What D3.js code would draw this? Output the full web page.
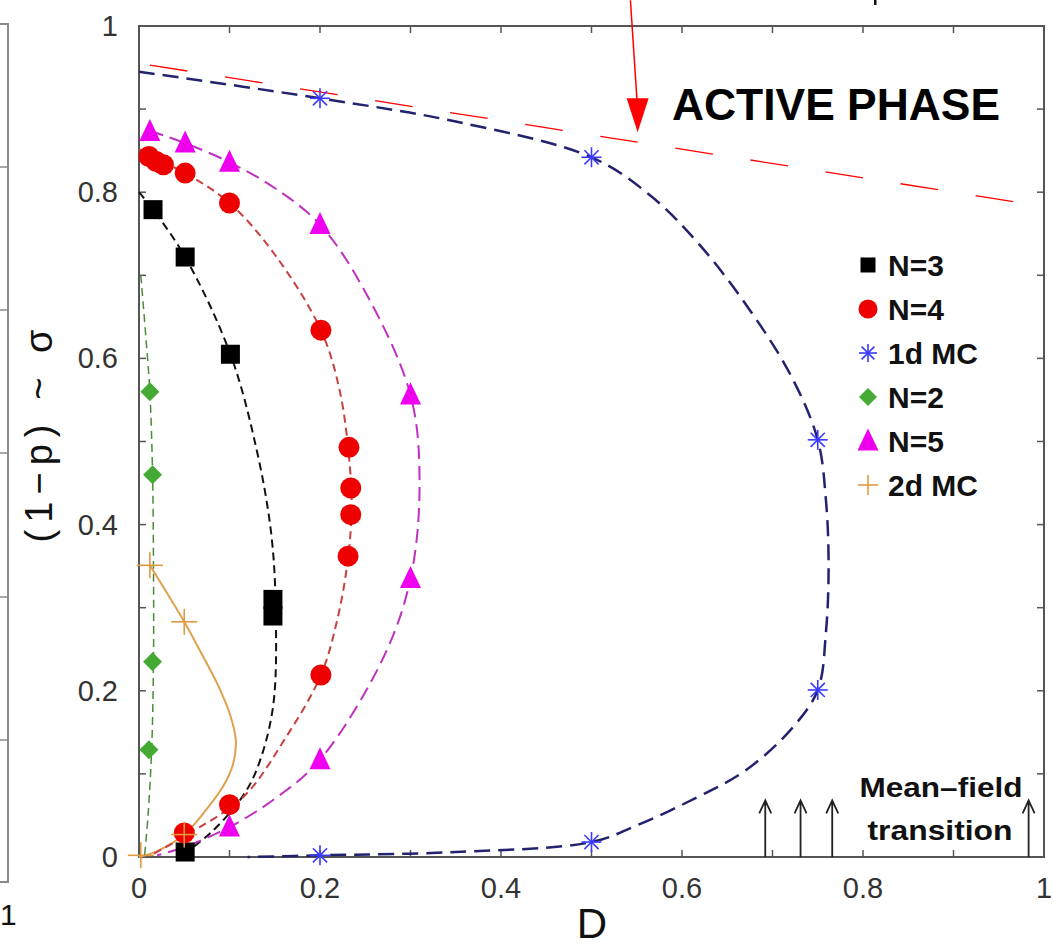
<!DOCTYPE html>
<html>
<head>
<meta charset="utf-8">
<script src="https://cdn.jsdelivr.net/npm/d3@7"></script>
<style>
  html, body { margin: 0; padding: 0; background: #fff; }
  svg { display: block; font-family: "Liberation Sans", Arial, Helvetica, sans-serif; }
</style>
</head>
<body>
<div id="chart"></div>
<script>
// Phase diagram: (1-p) ~ sigma versus D

// measured points [D, (1-p)]
const ptsN3 = [[0.0155, 0.779], [0.051, 0.722], [0.101, 0.605], [0.148, 0.31], [0.148, 0.29], [0.051, 0.006]];
const ptsN4 = [[0.011, 0.843], [0.019, 0.837], [0.027, 0.833], [0.051, 0.823], [0.1, 0.787], [0.201, 0.634],
  [0.232, 0.493], [0.234, 0.444], [0.234, 0.412], [0.231, 0.362], [0.201, 0.219], [0.1, 0.063], [0.05, 0.029]];
const pts1dMC = [[0.2, 0.913], [0.5, 0.842], [0.75, 0.502], [0.75, 0.201], [0.5, 0.018], [0.2, 0.002]];
const ptsN2 = [[0.012, 0.56], [0.015, 0.46], [0.015, 0.235], [0.011, 0.129]];
const ptsN5 = [[0.012, 0.873], [0.051, 0.859], [0.1, 0.836], [0.2, 0.761], [0.3, 0.556], [0.3, 0.335],
  [0.2, 0.117], [0.1, 0.036]];
const pts2dMC = [[0.012, 0.351], [0.05, 0.283], [0.05, 0.027], [0.002, 0.002]];

// fitted guide curves [D, (1-p)]
const fitN3 = [[0, 0.8], [0.0155, 0.779], [0.051, 0.722], [0.101, 0.605], [0.13, 0.49], [0.146, 0.39],
  [0.151, 0.3], [0.148, 0.18], [0.13, 0.105], [0.112, 0.069], [0.08, 0.03], [0.05, 0.004]];
const fitN4 = [[0, 0.852], [0.019, 0.84], [0.051, 0.823], [0.1, 0.787], [0.15, 0.725], [0.201, 0.634],
  [0.222, 0.56], [0.233, 0.47], [0.235, 0.42], [0.231, 0.36], [0.22, 0.29], [0.201, 0.219], [0.16, 0.14],
  [0.115, 0.072], [0.05, 0.025], [0.015, 0.003]];
const fitN5 = [[0.012, 0.874], [0.051, 0.859], [0.1, 0.836], [0.15, 0.805], [0.2, 0.761], [0.25, 0.68],
  [0.3, 0.556], [0.31, 0.45], [0.3, 0.335], [0.27, 0.24], [0.2, 0.117], [0.15, 0.07], [0.1, 0.036],
  [0.05, 0.012], [0.02, 0.002]];
const fit1dMC = [[0, 0.945], [0.2, 0.913], [0.35, 0.885], [0.5, 0.842], [0.565, 0.796], [0.62, 0.736],
  [0.675, 0.658], [0.72, 0.58], [0.75, 0.502], [0.759, 0.43], [0.762, 0.35], [0.759, 0.27], [0.75, 0.201],
  [0.72, 0.153], [0.67, 0.104], [0.617, 0.072], [0.55, 0.038], [0.5, 0.018], [0.35, 0.006], [0.2, 0.002],
  [0.12, 0]];
const fitN2 = [[0.002, 0.7], [0.008, 0.62], [0.012, 0.56], [0.015, 0.46], [0.016, 0.35], [0.016, 0.235],
  [0.014, 0.13], [0.01, 0.05], [0.006, 0]];
const fit2dMC = [[0.012, 0.351], [0.05, 0.283], [0.067, 0.249], [0.088, 0.205], [0.101, 0.17], [0.107, 0.14],
  [0.104, 0.112], [0.093, 0.085], [0.075, 0.058], [0.05, 0.027], [0.02, 0.007], [0, 0]];

// straight red boundary line and arrow
const redLine = [[0.012, 0.953], [0.976, 0.787]];
const redArrow = [[0.543, 1.031], [0.551, 0.872]];

// mean-field transition arrows
const mfArrowD = [0.692, 0.731, 0.766, 0.983];
const mfArrowTop = 0.068;

const xTicks = [0, 0.2, 0.4, 0.6, 0.8, 1];
const yTicks = [0, 0.2, 0.4, 0.6, 0.8, 1];
const minorTicks = d3.range(0, 11).map(i => i / 10);

const legendItems = [
  { label: 'N=3', kind: 'square' },
  { label: 'N=4', kind: 'circle' },
  { label: '1d MC', kind: 'star' },
  { label: 'N=2', kind: 'diamond' },
  { label: 'N=5', kind: 'triangle' },
  { label: '2d MC', kind: 'plus' }
];

const W = 1054, H = 947;
const x = d3.scaleLinear().domain([0, 1]).range([139, 1044]);
const y = d3.scaleLinear().domain([0, 1]).range([857, 26]);

const svg = d3.select('#chart').append('svg').attr('width', W).attr('height', H);

// neighbouring panel edge (cropped)
const edge = svg.append('g');
edge.append('path').attr('d', 'M0,24 L8,24 L8,882 L0,882')
  .attr('fill', 'none').attr('stroke', '#8a8a8a').attr('stroke-width', 2);
[167, 310, 453, 597, 740].forEach(ty => {
  edge.append('line').attr('x1', 0).attr('x2', 8).attr('y1', ty).attr('y2', ty)
    .attr('stroke', '#8a8a8a').attr('stroke-width', 1.5);
});
edge.append('text').attr('x', 0).attr('y', 925)
  .attr('font-size', 30).attr('fill', '#111').text('1');
svg.append('rect').attr('x', 874).attr('y', 0).attr('width', 2.5).attr('height', 5).attr('fill', '#111');

// frame and ticks
const frame = svg.append('g');
frame.append('rect').attr('x', x(0)).attr('y', y(1)).attr('width', x(1) - x(0)).attr('height', y(0) - y(1))
  .attr('fill', 'none').attr('stroke', '#555').attr('stroke-width', 2);
minorTicks.forEach(t => {
  frame.append('line').attr('x1', x(t)).attr('x2', x(t)).attr('y1', y(0)).attr('y2', y(0) - 7)
    .attr('stroke', '#555').attr('stroke-width', 1.5);
  frame.append('line').attr('x1', x(t)).attr('x2', x(t)).attr('y1', y(1)).attr('y2', y(1) + 7)
    .attr('stroke', '#555').attr('stroke-width', 1.5);
  frame.append('line').attr('x1', x(0)).attr('x2', x(0) + 7).attr('y1', y(t)).attr('y2', y(t))
    .attr('stroke', '#555').attr('stroke-width', 1.5);
  frame.append('line').attr('x1', x(1)).attr('x2', x(1) - 7).attr('y1', y(t)).attr('y2', y(t))
    .attr('stroke', '#555').attr('stroke-width', 1.5);
});
const fmt = d => d === 0 ? '0' : d === 1 ? '1' : d3.format('.1f')(d);
frame.selectAll('.xl').data(xTicks).join('text')
  .attr('x', d => x(d)).attr('y', 898).attr('text-anchor', 'middle')
  .attr('font-size', 29).attr('fill', '#333').text(fmt);
frame.selectAll('.yl').data(yTicks).join('text')
  .attr('x', 118).attr('y', d => y(d) + 10).attr('text-anchor', 'end')
  .attr('font-size', 29).attr('fill', '#333').text(fmt);

svg.append('text').attr('x', 592).attr('y', 938).attr('text-anchor', 'middle')
  .attr('font-size', 42).attr('fill', '#111').text('D');
svg.append('text').attr('transform', 'translate(52,436) rotate(-90)').attr('text-anchor', 'middle')
  .attr('font-size', 38).attr('fill', '#111').attr('textLength', 213).attr('lengthAdjust', 'spacing')
  .text('(1\u2212p) ~ \u03c3');

// curves
const line = d3.line().x(d => x(d[0])).y(d => y(d[1])).curve(d3.curveCatmullRom.alpha(0.5));
const curves = [
  { data: fit2dMC, color: '#e0a050', width: 2, dash: null },
  { data: fitN2, color: '#4a8a3a', width: 1.5, dash: '8,5' },
  { data: fitN3, color: '#111', width: 2, dash: '8,5' },
  { data: fitN4, color: '#c84040', width: 2, dash: '8,5' },
  { data: fitN5, color: '#c030c0', width: 2, dash: '14,7' },
  { data: fit1dMC, color: '#22226e', width: 2.5, dash: '16,8' }
];
curves.forEach(c => {
  svg.append('path').attr('d', line(c.data)).attr('fill', 'none')
    .attr('stroke', c.color).attr('stroke-width', c.width)
    .attr('stroke-dasharray', c.dash);
});

svg.append('line').attr('x1', x(redLine[0][0])).attr('y1', y(redLine[0][1]))
  .attr('x2', x(redLine[1][0])).attr('y2', y(redLine[1][1]))
  .attr('stroke', '#ff0000').attr('stroke-width', 1.3).attr('stroke-dasharray', '38,38');

// markers
function drawMarker(g, kind, cx, cy, s) {
  if (kind === 'square') {
    g.append('rect').attr('x', cx - s / 2).attr('y', cy - s / 2).attr('width', s).attr('height', s).attr('fill', '#000');
  } else if (kind === 'circle') {
    g.append('circle').attr('cx', cx).attr('cy', cy).attr('r', s / 2).attr('fill', '#ee0000');
  } else if (kind === 'triangle') {
    g.append('path').attr('d', `M${cx},${cy - s * 0.6} L${cx + s / 2},${cy + s * 0.45} L${cx - s / 2},${cy + s * 0.45}Z`)
      .attr('fill', '#ee00ee');
  } else if (kind === 'diamond') {
    g.append('path').attr('d', `M${cx},${cy - s / 2} L${cx + s / 2},${cy} L${cx},${cy + s / 2} L${cx - s / 2},${cy}Z`)
      .attr('fill', '#44aa33');
  } else if (kind === 'star') {
    for (let k = 0; k < 4; k++) {
      const a = k * Math.PI / 4;
      g.append('line').attr('x1', cx - Math.cos(a) * s / 2).attr('y1', cy - Math.sin(a) * s / 2)
        .attr('x2', cx + Math.cos(a) * s / 2).attr('y2', cy + Math.sin(a) * s / 2)
        .attr('stroke', '#3a3aff').attr('stroke-width', 1.6);
    }
  } else if (kind === 'plus') {
    g.append('line').attr('x1', cx - s / 2).attr('x2', cx + s / 2).attr('y1', cy).attr('y2', cy)
      .attr('stroke', '#e09a40').attr('stroke-width', 1.6);
    g.append('line').attr('x1', cx).attr('x2', cx).attr('y1', cy - s / 2).attr('y2', cy + s / 2)
      .attr('stroke', '#e09a40').attr('stroke-width', 1.6);
  }
}

const marks = svg.append('g');
ptsN2.forEach(d => drawMarker(marks, 'diamond', x(d[0]), y(d[1]), 19));
ptsN5.forEach(d => drawMarker(marks, 'triangle', x(d[0]), y(d[1]), 21));
ptsN3.forEach(d => drawMarker(marks, 'square', x(d[0]), y(d[1]), 19));
ptsN4.forEach(d => drawMarker(marks, 'circle', x(d[0]), y(d[1]), 21));
pts1dMC.forEach(d => drawMarker(marks, 'star', x(d[0]), y(d[1]), 20));
pts2dMC.forEach(d => drawMarker(marks, 'plus', x(d[0]), y(d[1]), 26));

// legend
const leg = svg.append('g');
legendItems.forEach((it, i) => {
  const ly = 265 + i * 44;
  const sz = { square: 15, circle: 19, star: 18, diamond: 18, triangle: 21, plus: 20 }[it.kind];
  drawMarker(leg, it.kind, 868, ly, sz);
  leg.append('text').attr('x', 888).attr('y', ly + 11).attr('font-size', 30).attr('font-weight', 'bold')
    .attr('fill', '#111').text(it.label);
});

// annotations
svg.append('text').attr('x', 672).attr('y', 120).attr('font-size', 44).attr('font-weight', 'bold')
  .attr('fill', '#000').attr('textLength', 328).attr('lengthAdjust', 'spacingAndGlyphs').text('ACTIVE PHASE');

// red arrow
const ax0 = x(redArrow[0][0]), ay0 = y(redArrow[0][1]);
const ax1 = x(redArrow[1][0]), ay1 = y(redArrow[1][1]);
svg.append('line').attr('x1', ax0).attr('y1', ay0).attr('x2', ax1 - 0.5).attr('y2', ay1 - 30)
  .attr('stroke', '#ff0000').attr('stroke-width', 1.5);
svg.append('path').attr('d', `M${ax1},${ay1} L${ax1 - 11},${ay1 - 34} L${ax1 + 11},${ay1 - 34}Z`)
  .attr('fill', '#ff0000');

// mean-field arrows
mfArrowD.forEach(dv => {
  const ax = x(dv), top = y(mfArrowTop);
  svg.append('path').attr('d', `M${ax},${y(0)} L${ax},${top} M${ax - 6},${top + 13} L${ax},${top} L${ax + 6},${top + 13}`)
    .attr('fill', 'none').attr('stroke', '#222').attr('stroke-width', 1.8);
});
svg.append('text').attr('x', 941).attr('y', 797).attr('text-anchor', 'middle').attr('font-size', 28)
  .attr('font-weight', 'bold').attr('fill', '#111').attr('textLength', 163).attr('lengthAdjust', 'spacingAndGlyphs')
  .text('Mean\u2013field');
svg.append('text').attr('x', 940).attr('y', 840).attr('text-anchor', 'middle').attr('font-size', 28)
  .attr('font-weight', 'bold').attr('fill', '#111').attr('textLength', 145).attr('lengthAdjust', 'spacingAndGlyphs')
  .text('transition');
</script>
</body>
</html>
